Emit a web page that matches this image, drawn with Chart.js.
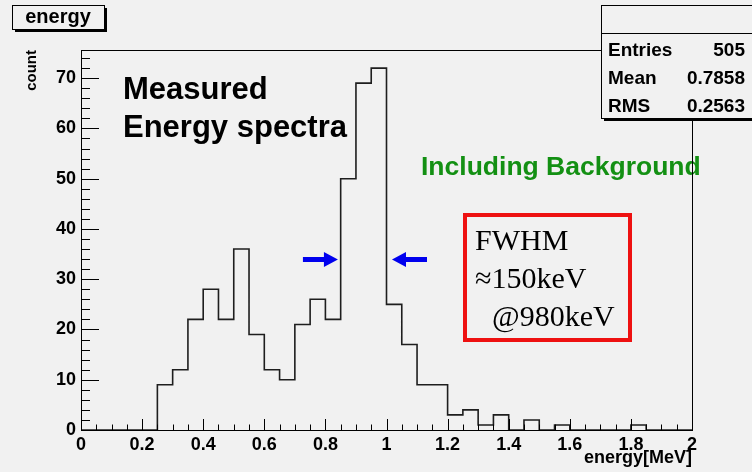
<!DOCTYPE html>
<html>
<head>
<meta charset="utf-8">
<script src="https://cdn.jsdelivr.net/npm/chart.js@4"></script>
<style>
  html, body { margin: 0; padding: 0; background: #f1f1f1; }
  canvas { display: block; }
</style>
</head>
<body>
<canvas id="energyChart" width="752" height="472"></canvas>
<script>
// histogram bins: low edge in MeV (0.05 MeV wide) and counts per bin
const binLows = [
  0.00, 0.05, 0.10, 0.15, 0.20, 0.25, 0.30, 0.35, 0.40, 0.45,
  0.50, 0.55, 0.60, 0.65, 0.70, 0.75, 0.80, 0.85, 0.90, 0.95,
  1.00, 1.05, 1.10, 1.15, 1.20, 1.25, 1.30, 1.35, 1.40, 1.45,
  1.50, 1.55, 1.60, 1.65, 1.70, 1.75, 1.80, 1.85, 1.90, 1.95
];
const binCounts = [
  0, 0, 0, 0, 0, 9, 12, 22, 28, 22,
  36, 19, 12, 10, 21, 26, 22, 50, 69, 72,
  25, 17, 9, 9, 3, 4, 1, 3, 0, 2,
  0, 1, 0, 0, 0, 0, 1, 0, 0, 0
];
const lastEdge = 2.0;

// stats box
const statNames = ['Entries', 'Mean', 'RMS'];
const statValues = ['505', '0.7858', '0.2563'];

// FWHM arrows (tip x in MeV, y in counts)
const arrowTips = [0.841, 1.018];
const arrowLevel = 33.9;

const histTitle = 'energy';
const noteLines = ['Measured', 'Energy spectra'];
const bgNote = 'Including Background';
const fwhmLines = ['FWHM', '\u2248150keV', '  @980keV'];

const SANS = '"Liberation Sans", Arial, sans-serif';
const SERIF = '"Liberation Serif", "Times New Roman", serif';
const BG = '#f1f1f1';

const points = binLows.map((lo, i) => ({ x: lo, y: binCounts[i] }));
points.push({ x: lastEdge, y: 0 });

function drawArrow(ctx, tipX, y, dir) {
  // dir = +1 points right, -1 points left
  ctx.beginPath();
  ctx.moveTo(tipX, y);
  ctx.lineTo(tipX - dir * 14, y - 7.5);
  ctx.lineTo(tipX - dir * 14, y - 2.5);
  ctx.lineTo(tipX - dir * 35, y - 2.5);
  ctx.lineTo(tipX - dir * 35, y + 2.5);
  ctx.lineTo(tipX - dir * 14, y + 2.5);
  ctx.lineTo(tipX - dir * 14, y + 7.5);
  ctx.closePath();
  ctx.fill();
}

const rootStyle = {
  id: 'rootStyle',
  afterDraw(chart) {
    const { ctx, chartArea: a, scales: { x, y } } = chart;
    ctx.save();

    // text notes
    ctx.fillStyle = '#000';
    ctx.textBaseline = 'alphabetic';
    ctx.textAlign = 'left';
    ctx.font = 'bold 31px ' + SANS;
    ctx.fillText(noteLines[0], 123, 99);
    ctx.fillText(noteLines[1], 123, 137);

    ctx.fillStyle = '#139013';
    ctx.font = 'bold 26.5px ' + SANS;
    ctx.fillText(bgNote, 421, 175);

    // red FWHM box
    ctx.strokeStyle = '#ee1111';
    ctx.lineWidth = 4;
    ctx.strokeRect(465, 215, 165, 125);
    ctx.fillStyle = '#000';
    ctx.font = '30px ' + SERIF;
    ctx.fillText(fwhmLines[0], 475, 250);
    ctx.fillText(fwhmLines[1], 475, 288);
    ctx.fillText(fwhmLines[2], 477, 326);

    // blue arrows
    ctx.fillStyle = '#0000ee';
    const ay = y.getPixelForValue(arrowLevel);
    drawArrow(ctx, x.getPixelForValue(arrowTips[0]), ay, 1);
    drawArrow(ctx, x.getPixelForValue(arrowTips[1]), ay, -1);

    // frame and inward ticks
    ctx.strokeStyle = '#000';
    ctx.lineWidth = 1;
    ctx.strokeRect(Math.round(a.left) + 0.5, Math.round(a.top) + 0.5,
      Math.round(a.right - a.left), Math.round(a.bottom - a.top));
    ctx.beginPath();
    for (let v = x.min, i = 0; v <= x.max + 1e-9; v += 0.05, i++) {
      const px = Math.round(x.getPixelForValue(v)) + 0.5;
      const len = i % 4 === 0 ? 11 : 5.5;
      ctx.moveTo(px, a.bottom);
      ctx.lineTo(px, a.bottom - len);
    }
    for (let v = y.min, i = 0; v <= y.max; v += 2, i++) {
      const py = Math.round(y.getPixelForValue(v)) + 0.5;
      const len = i % 5 === 0 ? 18 : 9;
      ctx.moveTo(a.left, py);
      ctx.lineTo(a.left + len, py);
    }
    ctx.stroke();

    // title box
    ctx.fillStyle = '#000';
    ctx.fillRect(15, 8, 92, 24);
    ctx.fillStyle = BG;
    ctx.fillRect(12, 5, 92, 24);
    ctx.strokeRect(12.5, 5.5, 92, 24);
    ctx.fillStyle = '#000';
    ctx.font = 'bold 20px ' + SANS;
    ctx.textAlign = 'center';
    ctx.fillText(histTitle, 58, 23);

    // stats box
    ctx.fillRect(604, 8, 160, 113);
    ctx.fillStyle = BG;
    ctx.fillRect(601, 5, 160, 113);
    ctx.strokeRect(601.5, 5.5, 160, 113);
    ctx.beginPath();
    ctx.moveTo(601, 33.5);
    ctx.lineTo(760, 33.5);
    ctx.stroke();
    ctx.fillStyle = '#000';
    ctx.font = 'bold 19px ' + SANS;
    statNames.forEach((name, i) => {
      const by = 56 + i * 28;
      ctx.textAlign = 'left';
      ctx.fillText(name, 608, by);
      ctx.textAlign = 'right';
      ctx.fillText(statValues[i], 745, by);
    });

    ctx.restore();
  }
};

new Chart(document.getElementById('energyChart'), {
  type: 'line',
  data: {
    datasets: [{
      label: histTitle,
      data: points,
      stepped: true,
      borderColor: '#1e1e1e',
      borderWidth: 1.6,
      pointRadius: 0,
      fill: false
    }]
  },
  options: {
    responsive: false,
    animation: false,
    devicePixelRatio: 1,
    layout: { padding: { top: 50, right: 60, left: 0, bottom: 0 } },
    plugins: {
      legend: { display: false },
      tooltip: { enabled: false }
    },
    scales: {
      x: {
        type: 'linear',
        min: 0,
        max: 2,
        grid: { display: false, drawTicks: false },
        border: { display: false },
        ticks: {
          stepSize: 0.2,
          padding: 4,
          color: '#000',
          maxRotation: 0,
          autoSkip: false,
          font: { family: SANS, size: 18, weight: 'bold' },
          callback: v => String(+v.toFixed(1))
        },
        title: {
          display: true,
          text: 'energy[MeV]',
          align: 'end',
          color: '#000',
          font: { family: SANS, size: 18, weight: 'bold' },
          padding: { top: 0, bottom: 3 }
        },
        afterFit: s => { s.height = 42; }
      },
      y: {
        min: 0,
        max: 75.6,
        grid: { display: false, drawTicks: false },
        border: { display: false },
        ticks: {
          stepSize: 10,
          includeBounds: false,
          padding: 5,
          color: '#000',
          font: { family: SANS, size: 18, weight: 'bold' }
        },
        title: {
          display: true,
          text: 'count',
          align: 'end',
          color: '#000',
          font: { family: SANS, size: 15, weight: 'bold' },
          padding: { top: 23, bottom: 0 }
        },
        afterFit: s => { s.width = 81; }
      }
    }
  },
  plugins: [rootStyle]
});
</script>
</body>
</html>
